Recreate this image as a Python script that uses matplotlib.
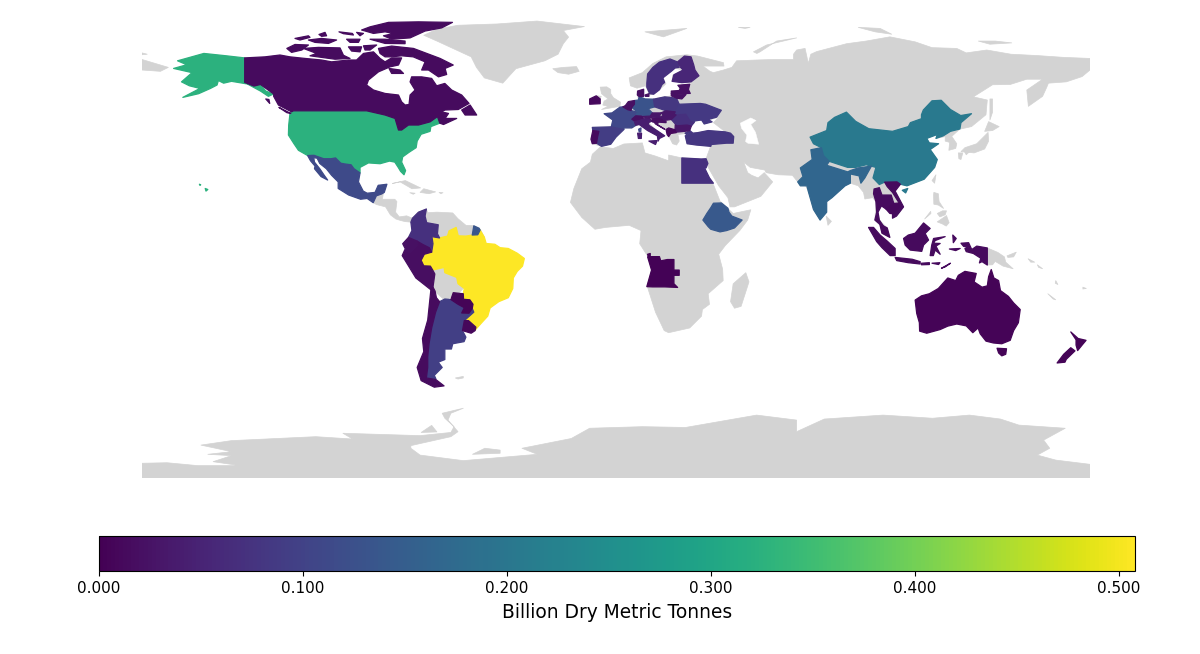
import matplotlib
matplotlib.use("Agg")
import matplotlib.pyplot as plt
from matplotlib.collections import PolyCollection
from matplotlib.colors import Normalize
from matplotlib.cm import ScalarMappable

GREY = "#d3d3d3"
CBAR_TICKS = [0.0, 0.1, 0.2, 0.3, 0.4, 0.5]
VMAX = 0.508
CBAR_LABEL = "Billion Dry Metric Tonnes"

COUNTRY_NAMES = ["Brazil", "USA", "China", "India", "Ethiopia", "French Guiana", "Mexico", "France", "Germany",
                 "Argentina", "Spain", "Colombia", "Egypt", "Sweden", "Finland", "Poland", "Ukraine", "Turkey",
                 "Romania", "Italy", "Canada", "Australia", "Angola", "Indonesia", "Thailand", "Vietnam", "Cambodia",
                 "Malaysia", "Peru", "Ecuador", "Chile", "Paraguay", "Uruguay", "Portugal", "Ireland", "Netherlands",
                 "Belgium", "Denmark", "Austria", "Switzerland", "Hungary", "Slovakia", "Slovenia", "Croatia",
                 "Bulgaria", "Estonia", "Latvia", "Lithuania", "Balkans", "New Zealand"]
COUNTRY_VALUES = [0.508, 0.325, 0.205, 0.165, 0.14, 0.135, 0.115, 0.11, 0.13,
                  0.095, 0.09, 0.07, 0.07, 0.07, 0.055, 0.08, 0.085, 0.08,
                  0.07, 0.04, 0.015, 0.004, 0.003, 0.012, 0.015, 0.015, 0.01,
                  0.012, 0.018, 0.02, 0.015, 0.005, 0.008, 0.015, 0.01, 0.02,
                  0.02, 0.02, 0.03, 0.02, 0.03, 0.03, 0.02, 0.02,
                  0.03, 0.02, 0.02, 0.02, 0.01, 0.005]

SHAPES = {
 "Brazil": [[(-60.7,5.2),(-59.9,2),(-57,1.9),(-54.6,2.3),(-52.5,2.4),(-51.6,4.2),(-50,1.5),(-49.3,-0.9),(-46,-1.2),(-44,-2.5),(-40.9,-2.8),(-37.5,-4.6),(-34.8,-6.6),(-35.5,-9.5),(-37.5,-11.5),(-39,-14),(-39.2,-18),(-40.9,-21.5),(-44.5,-23),(-47.8,-25.4),(-48.7,-28.5),(-51,-31),(-53.5,-33.8),(-53.2,-32.7),(-56,-30.2),(-57.6,-30.2),(-54,-27),(-54.6,-25.6),(-54.3,-24),(-55.5,-22.3),(-57.9,-22.1),(-58,-20),(-57.6,-18),(-60,-16.2),(-60.5,-13.8),(-65,-12),(-65.3,-10),(-69.6,-11),(-70.5,-9.5),(-73,-9.4),(-74,-7.3),(-72.8,-5),(-70,-4.2),(-69.5,-1),(-69.9,1.7),(-67,1.2),(-64,1.9),(-63.4,3.9)]],
 "USA": [[(-123.8,48.5),(-122.5,49.5),(-94.7,49.5),(-87.7,47.9),(-83.9,46.6),(-82.6,42.2),(-81.4,42.2),(-78.8,44.1),(-75,44.1),(-70.6,45.3),(-67.8,47.3),(-66.9,44.8),(-70.3,43.5),(-70.6,41.7),(-74,40.6),(-75.5,38),(-75.9,35.5),(-78.5,33.8),(-81,32),(-81.4,30),(-79.9,26.8),(-80.5,25.2),(-81.8,26.5),(-82.7,28),(-84,30),(-86,30.4),(-89.6,29.4),(-94,29.7),(-97.2,28),(-97.2,25.9),(-99.5,27.5),(-100.6,29),(-102.9,29.3),(-104.5,29.6),(-106.5,31.6),(-108.2,31.3),(-111,31.3),(-114.7,32.6),(-117.1,32.5),(-120.6,34.5),(-122.3,37),(-124.4,40.3),(-124.3,44)],
         [(-141,69.6),(-141,60.3),(-137.5,58.9),(-135,59.5),(-133,57),(-130,55.9),(-132,55),(-135,57),(-140,59.7),(-146,60.7),(-149,60),(-151,61),(-151.5,59.3),(-154,58),(-158.5,56),(-164.5,54.6),(-158,58),(-162,59),(-165,60.5),(-161,64),(-168,65.6),(-163,67),(-166.5,68.5),(-156.5,71.3),(-148,70.4)],
         [(-156,20),(-155,19.6),(-155.7,19)],[(-158.2,21.6),(-157.7,21.4),(-158,21.2)]],
 "China": [[(73.7,39.5),(80,42),(80.5,45),(83,47),(87.5,49),(91,45.5),(96,42.7),(105,41.7),(111,43.5),(111.8,45),(116,46.5),(116,48),(116.7,49.8),(120,53.3),(123.5,53.5),(127,50),(130.9,47.7),(135,48.4),(131,45),(130.6,42.6),(127,41.7),(124.3,40),(121.5,39),(122,40.5),(118,39),(119,37.3),(122.5,37),(119.3,34.8),(122,31),(121,28),(117,23.5),(110.5,21),(108,21.6),(106.7,22.5),(102,22.4),(100,21.5),(97.6,24),(98.7,28),(95,29),(91,28),(88,28),(81,30.3),(78.8,32.5),(78,35.5),(75,37)],
           [(108.7,19.3),(110.8,20),(110,18.3)]],
 "India": [[(74,34.7),(78,35.5),(78.8,32.5),(81,30.3),(80,28.8),(88,26.3),(89,26.8),(92,27.8),(97,28.5),(94.5,24),(93,22),(92.3,24.8),(89,25.5),(89,22),(87,21),(82,16.5),(80,15),(80,11),(77.5,8),(75,12),(73,19),(72.5,21),(70,21),(69,22.5),(71,24.5),(70,27.8),(74.5,31)]],
 "Ethiopia": [[(37,14.4),(40,14.5),(42.5,12.5),(42.9,11),(44,9.5),(47.9,8),(45,5),(42,4),(39.5,3.5),(36,4.5),(35,5.5),(33,8),(34.5,10.5),(36,12.7)]],
 "French Guiana": [[(-54,5.8),(-52,4.9),(-51.6,4.2),(-52.5,2.4),(-54.6,2.3)]],
 "Mexico": [[(-117.1,32.5),(-114.7,32.6),(-111,31.3),(-108.2,31.3),(-106.5,31.6),(-104.5,29.6),(-102.9,29.3),(-100.6,29),(-99.5,27.5),(-97.2,25.9),(-97.8,22.5),(-96,19),(-94.5,18.2),(-91.5,18.5),(-90.3,21.2),(-87,21.6),(-88,18.5),(-89,17.9),(-91,17.2),(-92.2,14.6),(-94.5,16.2),(-97,15.9),(-101.5,17.5),(-105.5,20),(-105.5,22.5),(-108,25),(-110,27.5),(-112.5,29.5),(-113.5,31.5),(-114.8,31.7),(-114.5,30),(-112.5,27.5),(-110.8,25),(-109.5,23.2),(-112,24.5),(-114.5,27.5),(-114.3,28.5),(-116,30.5)]],
 "France": [[(-1.8,43.4),(-1.2,46),(-4.5,48.4),(-1.5,48.7),(1.5,50.9),(2.6,51),(4.5,49.9),(8.2,49),(7.5,47.6),(6,46.3),(7.5,44),(6,43),(3,43),(3,42.5)],
            [(8.6,42.5),(9.5,43),(9.4,41.5),(8.8,41.5)]],
 "Germany": [[(7,53.4),(8.5,53.6),(8.8,54.9),(11,54),(14.2,53.9),(14.7,51),(12.2,50.3),(13.8,48.7),(13,47.5),(7.5,47.6),(8.2,49),(6,50.8),(7,52)]],
 "Argentina": [[(-67,-23),(-65,-22),(-62.7,-22.2),(-60,-24),(-57.6,-25.3),(-58.6,-27.3),(-55.8,-27.4),(-54.6,-25.6),(-54,-27),(-57.6,-30.2),(-58.3,-34),(-57,-36.5),(-57.7,-38.2),(-62,-39),(-62.5,-41),(-65,-41),(-65,-45),(-67.5,-46),(-66,-48),(-69,-51),(-68.4,-52.3),(-72,-52),(-71.5,-48),(-71.5,-44),(-71,-39),(-70,-33),(-68.5,-27)]],
 "Spain": [[(-9,43.2),(-1.8,43.4),(3,42.4),(0,39.5),(-2,36.8),(-5.5,36),(-7.4,37.2),(-7,39.5),(-6.5,41.7),(-8.8,42)]],
 "Colombia": [[(-77.3,8.7),(-75,11),(-72,12.2),(-72.5,9.5),(-71.9,7),(-67.5,6.2),(-67.8,2.8),(-67,1.2),(-69.9,1.7),(-69.5,-1),(-70,-4.2),(-70.9,-2.5),(-73.5,-1.2),(-75.5,0),(-78.8,1.4),(-77.5,4),(-77.9,7.2)]],
 "Egypt": [[(25,31.6),(32.3,31.2),(34.2,31.3),(34.9,29.5),(34.2,27.8),(33,28.5),(32.6,29.9),(35.5,24),(37,22),(25,22)]],
 "Sweden": [[(11.7,58.5),(12.8,56),(14.3,55.8),(16.5,57.5),(17.5,59.5),(18.5,60.3),(17.8,62),(21,64.5),(22.5,65.8),(24,66),(23.5,68),(20.5,69.2),(16.5,68),(14,66),(12,63.5),(11.7,60)]],
 "Finland": [[(21.3,60.7),(25,60.2),(28.5,60.5),(31.5,62.8),(30,65),(29.5,67),(28.5,70),(26,70.3),(23.5,68.2),(24.5,66),(25.5,65),(22,63.2)]],
 "Poland": [[(14.2,53.9),(18.5,54.8),(23,54.3),(24,52),(23.5,50.5),(22.5,49.1),(19,49.5),(14.7,51)]],
 "Ukraine": [[(24,52),(32,52.3),(34,52),(40,49.7),(38.2,47.1),(35,46.2),(36.5,45.3),(33.5,44.5),(32.5,46),(30,45.7),(29.6,45),(28.2,45.5),(26.5,48.2),(22.8,47.9),(22,48.3),(22.5,49.1),(23.5,50.5)]],
 "Turkey": [[(26.3,40),(29,41),(31,41.2),(35,42),(41.5,41.5),(43.5,41),(44.7,39.7),(44.5,37.2),(42,37.2),(36.2,36.7),(36,36),(30.5,36.5),(27,37)],
            [(26.2,41),(28,42),(29,41.2),(26.8,40.5)]],
 "Romania": [[(22.8,47.9),(26.5,48.2),(28.2,45.5),(29.6,45),(28.6,43.7),(27,44.1),(23,43.8),(22.5,44.5),(21,46.2)]],
 "Italy": [[(7.5,44),(6.8,45.8),(8.5,46.2),(12.5,46.7),(13.7,45.6),(12.3,45),(12.5,44),(16,41.7),(18.5,40),(16.5,39),(16,38),(15.7,40),(12,42),(8.8,44.3)],
           [(12.5,38),(15.6,38.2),(15,36.7)],[(8.2,41),(9.7,41),(9.6,39),(8.5,39)]],
 "Canada": [[(-141,69.6),(-133.3,70),(-127.6,70.7),(-123.8,70),(-118.1,69.4),(-111.8,68.8),(-108,68.1),(-101.6,68.8),(-98.5,68.8),(-95.9,71.3),(-92.1,71.9),(-89.6,69.4),(-87.7,68.1),(-85.2,69.6),(-81.4,69.6),(-82.6,66.9),(-85.8,66.2),(-90.2,64.3),(-94,61.2),(-94.7,59.3),(-92.1,57.4),(-87.7,56.1),(-82.6,55.5),(-81.4,52.9),(-80.1,51.7),(-78.6,51.9),(-78.2,55.5),(-76.3,57.4),(-78.2,60.5),(-77.6,62.4),(-73.8,62.4),(-70,61.8),(-68.1,59),(-65,59.9),(-62.4,57.4),(-58.6,55.5),(-55.8,52.3),(-59.9,50),(-64.9,49.8),(-69.3,47.9),(-66.2,49.1),(-63.6,48.5),(-64.9,46.6),(-60.5,46.6),(-65.5,44.3),(-66.9,44.8),(-67.8,47.3),(-70.6,45.3),(-75,44.1),(-78.8,44.1),(-81.4,42.2),(-82.6,42.2),(-83.9,46.6),(-87.7,47.9),(-94.7,49.5),(-122.5,49.5),(-123.2,49.1),(-128.2,51.7),(-130,55),(-130,55.9),(-135,59.5),(-137.5,58.9),(-141,60.3)],
            [(-90.2,73.2),(-85.2,74.1),(-76.9,73.2),(-66.8,69.4),(-61.8,66.9),(-64.9,65.6),(-64.3,63.3),(-67.4,62.4),(-71.2,65),(-73.8,65),(-72.5,68.1),(-77,70),(-81.4,70.4),(-85.2,70),(-87.7,70),(-89.6,71.3)],
            [(-86.2,65.6),(-82,65),(-80.7,63.7),(-85.2,63.7)],
            [(-125,73.2),(-121.9,74.7),(-116.8,74.5),(-119.3,72.6),(-123.2,71.7)],
            [(-118.7,73.2),(-113,73.6),(-104.8,73.4),(-103.5,70.6),(-101,69.4),(-106.7,69.1),(-116.2,70.4),(-113.7,71.3)],
            [(-121.9,77),(-116.8,78),(-116.2,77.4),(-120,76.4)],
            [(-116.8,76.4),(-111.8,77),(-106.1,76.4),(-109.2,75.1),(-114.3,75.5)],
            [(-102.3,76.7),(-97.2,76.7),(-97.8,75.5),(-101,75.5)],
            [(-101.6,73.8),(-96.6,73.8),(-97.2,71.9),(-100.4,72.2)],
            [(-95.9,74.2),(-90.9,74.5),(-93.4,72.6),(-95.3,72.6)],
            [(-112.8,78.5),(-110.5,79.3),(-109.9,78),(-111.8,77.8)],
            [(-105.2,79.5),(-100.1,78.9),(-99.7,78.3),(-103.5,78.8)],
            [(-98.5,79.3),(-95.9,78.9),(-97.2,78)],
            [(-93.4,76.7),(-87.7,76.7),(-80.1,76),(-80.1,75),(-87.7,75.1)],
            [(-96.6,80.2),(-93.4,81.4),(-86.4,83.1),(-75,83.3),(-62.1,83.1),(-66.2,81),(-72.5,79.8),(-78.2,77.2),(-85.2,76.7),(-88.3,78),(-84.5,78.9),(-87.7,79.5),(-92.1,78.9)],
            [(-58.6,49.8),(-55.4,51.7),(-52.9,47.9),(-57.3,47.9)],
            [(-128,50.8),(-123.5,48.5),(-125,48.8)],
            [(-133,54),(-131.8,53.8),(-131.5,52.3)]],
 "Australia": [[(113.6,-22.4),(114.2,-27.5),(115.2,-31),(115.3,-34.2),(118,-35),(123.1,-33.6),(126,-32.3),(129.4,-31.5),(133,-32.2),(135.5,-34.8),(137.5,-33),(138.3,-35.2),(140.5,-38),(143.3,-38.7),(146.5,-39),(149.7,-37.7),(151,-34),(152.8,-31),(153.5,-26),(151,-23.5),(149,-21),(146,-18.8),(145.3,-15),(143.5,-14),(142.5,-10.8),(141.5,-13.5),(141,-17),(139,-17.5),(136,-15.5),(136.8,-12.3),(132.5,-11.5),(130,-13),(129,-15),(126,-14),(122.4,-18),(119,-20),(116,-20.8)],
               [(144.7,-40.7),(148.3,-40.9),(148,-43),(146.5,-43.6),(145.3,-42.5)]],
 "Angola": [[(11.7,-17.3),(13.5,-11),(12,-6),(13,-5.9),(16.5,-5.9),(17,-7.5),(19.5,-7),(22,-7),(22,-11),(24,-11),(24,-13),(22,-13),(22,-16.2),(23.4,-17.6),(18.5,-17.4),(13.9,-17.4)],
            [(12,-5),(13,-4.7),(13,-5.8),(12.2,-5.8)]],
 "Indonesia": [[(95.9,5.2),(97.8,5.2),(100.3,2.3),(103,0),(106,-2.8),(106,-5.5),(104.1,-5.5),(101,-2.5),(99,-0.2)],
               [(106,-6.2),(109.8,-6.6),(112.5,-6.9),(115.5,-7.8),(115.5,-8.7),(111,-8.2),(106.6,-7.4)],
               [(109.2,1),(111,2.3),(113.6,3),(116.8,6.9),(119.3,4.8),(117.4,2.9),(118.7,0.4),(116.8,-1.5),(116.1,-3.9),(111.7,-3.4),(109.8,-1.5)],
               [(119.3,-5.5),(119.9,-1.5),(120.6,1),(125,1.7),(121.2,0.2),(120.6,-0.8),(123.1,-0.9),(121.5,-1.9),(123.1,-5),(121.2,-3.4),(120.5,-5.5)],
               [(116,-8.4),(119,-8.2),(119,-8.9),(116,-9)],[(120,-8.4),(123,-8.2),(122.5,-8.9)],
               [(123.6,-10.3),(127,-8.4),(125,-9.8)],[(127.9,2.3),(129.2,1),(128.1,-0.6)],[(126.6,-3),(130.7,-2.8),(129,-3.6)],
               [(131,-0.8),(133.9,-0.6),(135.1,-3.2),(137,-1.9),(141,-2.6),(141,-9.1),(139,-7.8),(138,-8.3),(138.5,-6.5),(135.7,-4.7),(133,-4),(132.5,-2.8),(134,-2.3),(132,-2)]],
 "Thailand": [[(100,20.3),(101,17.5),(104.5,17.5),(105.5,14.3),(102.5,12.2),(100.8,13.4),(99.5,11),(100,8),(101.5,5.8),(100.2,6.4),(98.3,8),(99,11),(98.7,15),(97.8,18),(98,19.8)]],
 "Vietnam": [[(102,22.4),(106.7,22.5),(108,21.6),(106,19),(109.2,13),(106.5,9.5),(105,8.7),(105,10.4),(107.5,13),(107.5,14.5),(105,18.5),(103,20.7)]],
 "Cambodia": [[(102.5,12.2),(105.5,14.3),(107.5,14.5),(107.5,13),(105,10.4),(104,10.5)]],
 "Malaysia": [[(100.2,6.4),(101.5,5.8),(103,5),(104,1.4),(101,3)]],
 "Peru": [[(-80.3,-3.5),(-78.3,-4.5),(-75.3,-1.5),(-75.5,0),(-73.5,-1.2),(-70.9,-2.5),(-70,-4.2),(-72.8,-5),(-74,-7.3),(-73,-9.4),(-70.5,-9.5),(-69.6,-11),(-68.8,-12.5),(-69.5,-17.5),(-70.3,-18.5),(-76,-14),(-81.2,-5.5)]],
 "Ecuador": [[(-78.8,1.4),(-75.5,0),(-75.3,-1.5),(-78.3,-4.5),(-80.3,-3.5),(-80,-3),(-81,-1)]],
 "Chile": [[(-69.5,-17.5),(-70.3,-18.5),(-71.5,-30),(-73.5,-37),(-73,-42),(-75.5,-48),(-74,-53),(-69,-55.5),(-65.3,-55),(-68.4,-52.6),(-72,-52),(-71.5,-48),(-71.5,-44),(-71,-39),(-70,-33),(-68.5,-27),(-67,-23),(-68.2,-21.5),(-68.7,-19)]],
 "Paraguay": [[(-62.7,-22.2),(-61.8,-19.6),(-58,-20),(-57.9,-22.1),(-55.5,-22.3),(-54.3,-24),(-54.6,-25.6),(-55.8,-27.4),(-58.6,-27.3),(-57.6,-25.3),(-60,-24)]],
 "Uruguay": [[(-57.6,-30.2),(-56,-30.2),(-53.2,-32.7),(-53.5,-34),(-55,-35),(-58.3,-34)]],
 "Portugal": [[(-8.8,42),(-6.5,41.7),(-7,39.5),(-7.4,37.2),(-9,37),(-9.5,38.7)]],
 "Ireland": [[(-10,52),(-6,52.2),(-6,54),(-7.5,55.2),(-10,54)]],
 "Netherlands": [[(3.5,51.4),(4.7,53),(7,53.4),(7,52),(6,50.8),(5.8,51),(3.5,51.3)]],
 "Belgium": [[(2.6,51),(3.5,51.4),(6,50.8),(5.7,49.6),(4.5,49.9)]],
 "Denmark": [[(8.1,55.5),(8.2,57),(10.5,57.7),(10.5,55),(8.8,54.9)],[(11,55.5),(12.5,56),(12.5,55),(11.2,55)]],
 "Austria": [[(9.6,47.3),(13,47.5),(13.8,48.7),(17,48.7),(16.5,47),(12.5,46.7)]],
 "Switzerland": [[(6,46.3),(7.5,47.6),(9.6,47.5),(10.4,46.7),(8.5,46.2),(6.8,45.8)]],
 "Hungary": [[(16.5,47),(18,47.8),(22,48.3),(22.8,47.9),(21,46.2),(18.8,45.9),(16.5,46.5)]],
 "Slovakia": [[(17,48.7),(19,49.5),(22.5,49.1),(22,48.3),(18,47.8)]],
 "Slovenia": [[(13.7,45.6),(13.7,46.5),(16.5,46.6),(15.5,45.5)]],
 "Croatia": [[(13.7,45.4),(15.5,45.5),(16.5,46.5),(19,45.5),(19,45),(16,45.2),(15.8,44.2),(18.5,42.5),(15,44.5),(14.5,45.2)]],
 "Bulgaria": [[(22.5,44.2),(23,43.8),(27,44.1),(28.6,43.7),(28,42),(26.2,41.7),(22.9,41.4),(22.4,42.3)]],
 "Estonia": [[(23.5,59.2),(28,59.6),(27.5,57.6),(24.5,58)]],
 "Latvia": [[(21,57),(24,57.2),(24.4,58),(27.5,57.6),(28.2,56.1),(21,56)]],
 "Lithuania": [[(21,56),(26.6,55.7),(25,54),(23,54.3),(21,55.2)]],
 "Balkans": [[(19,42.4),(20,43),(22.4,42.3),(22.9,41.2),(20.8,40.9),(20,39.7),(19.4,40.5)]],
 "New Zealand": [[(172.7,-34.5),(175.5,-37),(178.5,-37.7),(177,-39.5),(175.3,-41.6),(174.7,-39.5),(174.7,-37.5)],
                 [(172.7,-40.5),(174.3,-41.7),(171,-44.9),(170.5,-46),(167.5,-46.3),(170,-43)]],
}

GREY_LAND = [
 [(-9,37),(-9.5,38.7),(-8.8,42),(-9,43.2),(-1.8,43.4),(-1.2,46),(-4.5,48.4),(-1.5,48.7),(1.5,50.5),(3.5,51.4),(4.7,53),(8.5,53.6),(8.2,55.5),(8.2,57),(10.5,57.7),(10.3,56),(9.8,55),(11,54),(14,54),(18.5,54.8),(21,55.2),(21,57),(24,57.2),(24,58.5),(23.5,59.2),(28,59.6),(30,60),(25,60.2),(21.3,60.7),(21.5,63),(25.3,65),(22,65.8),(17.5,62.5),(17.2,60.7),(19,59.8),(16.5,57.5),(14.5,56),(12.8,55.5),(11.2,59),(8,58.1),(5.5,59),(5,62),(10,64),(14,67.5),(19,70),(26.9,70.8),(31,70.3),(40.8,67.8),(41,66.5),(35.7,66.5),(33,66.5),(35.7,64.5),(37,64),(40.8,65),(44,66),(45.8,68.5),(53.4,68.8),(60,69),(67.4,69),(67.4,71),(68.6,72.6),(71.8,73.2),(72.5,70),(73,67.5),(74,71),(76.2,72),(80,73),(87.6,75),(95,76),(104,77.6),(113.6,75.7),(120,73.5),(129.4,73.2),(133,71.5),(140.8,72.6),(150,71),(159.8,70.5),(170,69.8),(180,69.4),(180,65),(177,62.5),(171,60.5),(164.2,60),(163.6,58.5),(162,55),(156.6,51.2),(156,57.4),(162,61.5),(156,61.5),(149.7,59.5),(143,59.4),(140.8,58),(135.7,54.8),(141,53.6),(140.5,48),(135,43.5),(130.5,42.5),(127.5,39.8),(129.4,37),(129,35.2),(126.4,34.5),(126.7,37.5),(125,38),(125,39.7),(121.5,39),(122,40.5),(118,39),(119,37.3),(122.5,37),(119.3,34.8),(122,31),(121,28),(117,23.5),(110.5,21),(108,21.6),(106,19),(109.2,13),(106.5,9.5),(105,8.7),(105,10.4),(102.5,12.2),(100.8,13.4),(99.5,11),(100,8),(103,5),(104,1.4),(101,3),(100.2,6),(98.3,8),(98.7,15),(97.5,16.5),(94.5,16),(94,18.5),(92,21),(89,22),(87,21),(82,16.5),(80,15),(80,11),(77.5,8),(75,12),(73,19),(72,21),(70,21),(69,22.5),(67,25),(61.6,25.2),(57,26),(56.5,27),(51,28),(48.5,30),(50,26),(51.5,25),(54,24),(56.3,26),(59.5,22.5),(55,17),(45,13),(43.3,13),(42.5,16.5),(39,21),(35,28),(34.9,29.5),(34.2,31.3),(35.9,36),(30.5,36.5),(27,37),(26.3,39.7),(29,41),(31,41.2),(35,42),(41.5,41.5),(37,45),(39,47),(35,46),(36.5,45.3),(33.5,44.5),(32.5,46),(30,45.5),(28,43.5),(28,41.7),(26,40.8),(23.5,40.5),(24,38),(23,36.5),(21.5,37),(19.5,41),(19,42.3),(13.8,45.5),(12.3,45),(16,41.5),(18.5,40),(16.5,39),(16,38),(15.7,40),(12,42),(8.8,44.3),(6,43),(3,43),(0,39.5),(-2,36.8),(-5.5,36)],
 [(-5.9,35.8),(-1,35.2),(3,36.9),(10,37.3),(11,33.5),(15,32.3),(20,30.5),(20,32.7),(25,31.6),(32.3,31.2),(32.6,29.9),(35.5,24),(37.2,21),(39.5,15.2),(43.3,11.6),(44.5,10.5),(51.2,11.9),(50,8),(47,4),(41.5,-1.7),(39,-5),(40.5,-10.7),(40.7,-15),(35,-20),(35.5,-24),(32.8,-26),(32.5,-28.5),(28,-33),(20,-34.8),(18.3,-34),(15,-27),(11.8,-17),(13.5,-11),(12.2,-6),(9,-1),(9.5,4),(5,6),(-4,5.2),(-8,4.5),(-13,9),(-17.3,14.7),(-16,20),(-13,27.5),(-9.7,30),(-9,33)],
 [(49.3,-12),(50.5,-15.5),(47.5,-24.8),(45,-25.5),(43.5,-23),(44.5,-16.2)],
 [(-92.2,14.6),(-90.5,17.8),(-89,17.9),(-88.3,18.4),(-88.7,15.9),(-84,15.9),(-83.2,15),(-83.7,11),(-82.3,9.2),(-79.5,9.6),(-77.3,8.7),(-77.9,7.2),(-80,7.4),(-81.7,7.8),(-83.6,8.4),(-85.7,10),(-87.5,13),(-91,13.9)],
 [(-77.3,8.7),(-75,11),(-72,12.2),(-71.5,10.8),(-68,11),(-62,10.7),(-60,8.5),(-57,6),(-54,5.9),(-51.5,4.4),(-50,1.5),(-52,-5),(-55,-15),(-60,-20),(-65,-22.5),(-70,-18),(-76,-14),(-72,-2),(-77.9,7.2)],
 [(-73,78.2),(-68,76),(-55,70),(-53,66),(-50,62),(-43,60),(-38,65.5),(-27,68.5),(-22,71),(-20,75),(-18,77.5),(-20,80),(-12,81.5),(-30,83.6),(-45,82.5),(-60,82),(-68,80.5)],
 [(-84.9,21.9),(-80,23),(-74.2,20.2),(-77.5,19.9),(-82,22.5)],
 [(-74.4,18.5),(-73,19.9),(-68.5,18.7),(-71,18)],
 [(-78.3,18.4),(-76.3,18.2),(-77,17.8)],[(-67.2,18.5),(-65.7,18.4),(-66.5,18)],
 [(-5.5,50),(1.5,51.2),(1.7,52.8),(-1,54.5),(-2,56),(-2,57.6),(-3.5,58.6),(-6,58.5),(-5.5,56),(-3,54),(-4.5,53.2),(-5,51.7),(-3,51.2)],
 [(-8,54.5),(-6,54),(-5.6,55),(-7,55.2)],
 [(-24,65.5),(-22,64),(-18,63.4),(-14,64.5),(-15,66.3),(-20,66)],
 [(131,34),(136,33.5),(140,35),(141.5,38),(141.3,41.3),(140,40),(137,37),(132.5,35.5)],
 [(130,33.5),(131.7,33.5),(131,31),(130.2,31.3)],[(132.3,34),(134.5,34.2),(133,32.8)],
 [(140,41.7),(141.5,45.4),(145.5,43.5),(143,42)],
 [(142,46),(143,49),(143,54),(142,54),(142,50)],
 [(120,23),(121.5,25.2),(121,22)],
 [(120.6,17.5),(120.7,18.5),(122.4,18),(122.7,15),(124.4,12.4),(122.4,13.7),(120.7,14)],
 [(122,7.3),(125.5,9.7),(126.5,7),(125.4,5.7),(124,6.5)],
 [(122,10.5),(124,11.5),(125.5,11.5),(125,10),(123,9.2)],
 [(117.2,8.4),(119.5,11.3),(119.6,10.5)],
 [(79.8,9.5),(81.8,7.5),(80.5,6)],
 [(141,-2.6),(145,-4.3),(147.5,-6),(148,-8),(150.8,-10.5),(147,-9.5),(144,-7.7),(143,-9),(141,-9.1)],
 [(148.5,-5.6),(152,-4.2),(151,-6),(148.8,-6.2)],
 [(156.5,-6.7),(159,-8),(157.5,-8)],[(160,-9),(162,-10.5),(160.5,-10)],
 [(164,-20),(167,-22.3),(166,-22)],[(167,-15),(167.8,-16.5),(166.8,-16)],[(177.3,-17.5),(178.6,-18),(177.3,-18.2)],
 [(-61,-52),(-58,-51.4),(-58,-52),(-60,-52.4)],
 [(52.2,71.9),(57.2,74.5),(68.6,77.2),(61,76),(54.7,71.9),(53.5,71.3)],
 [(92,81.2),(100.3,80.8),(104.7,78.6),(98.4,79.5)],[(11,79.5),(26.9,80.8),(18,77.6)],
 [(46.5,81.2),(50.9,81.2),(49,80.8)],[(137.6,76),(144,76),(150.3,75.3),(142,74.8)],
 [(-180,69),(-175,67.5),(-170,66),(-173,64.5),(-180,65)],[(-180,71.5),(-178,71),(-180,70.8)],
 [(-180,-84.4),(-170.5,-84.2),(-158.8,-85.3),(-142.8,-85.3),(-153,-83.8),(-146,-81.5),(-155,-81),(-146,-80),(-157.6,-77.5),(-146,-75.8),(-114,-74.3),(-100,-75.2),(-103.7,-73),(-90.8,-73.4),(-74.4,-73.9),(-62.7,-72.7),(-61.5,-70.5),(-65,-67.3),(-66,-65.4),(-58,-63.5),(-62.7,-65.4),(-63.8,-68),(-60,-72.4),(-62.7,-74.3),(-77.9,-77.7),(-77.9,-78.7),(-74.4,-81.3),(-58,-83.4),(-29.9,-81),(-35.7,-78.7),(-17,-75),(-10,-71.1),(10,-70.5),(26.4,-70.8),(53.4,-66.1),(68.6,-68),(68.6,-72.4),(79.1,-67.6),(101.4,-66.1),(120.2,-67.3),(134.2,-66.1),(146,-67.6),(153,-69.9),(170.6,-71.1),(162.4,-75.6),(164.7,-78.7),(160,-81.3),(167,-83.2),(180,-84.8),(180,-90),(-180,-90)],
 [(-54.5,-81),(-49.8,-78.7),(-44,-79.4),(-44,-80.6)],[(-74,-72.7),(-70,-70),(-68,-72.5)],
]
WATER = [[(47,45),(51,47),(53,46),(51,44.5),(52.8,41.5),(54,37),(50,37.3),(49,38),(49.5,40.5),(47.5,43)]]

cmap = plt.get_cmap("viridis")
norm = Normalize(0, VMAX)

fig = plt.figure(figsize=(12, 6.54), dpi=100)
ax = fig.add_axes([142/1200, 1-478/654, 948/1200, 458/654])
ax.set_xlim(-180, 180)
ax.set_ylim(-90, 84)
ax.axis("off")

ax.add_collection(PolyCollection(GREY_LAND, facecolors=GREY, edgecolors=GREY, linewidths=0.5, joinstyle="round", zorder=1))
ax.add_collection(PolyCollection(WATER, facecolors="white", edgecolors="white", linewidths=0.3, zorder=2))

polys, vals = [], []
for name, value in zip(COUNTRY_NAMES, COUNTRY_VALUES):
    for p in SHAPES[name]:
        polys.append(p)
        vals.append(value)
pc = PolyCollection(polys, array=vals, cmap=cmap, norm=norm, edgecolors="face", linewidths=0.9, joinstyle="round", zorder=3)
ax.add_collection(pc)

cax = fig.add_axes([99/1200, 1-571/654, 1036/1200, 35/654])
cb = fig.colorbar(ScalarMappable(norm=norm, cmap=cmap), cax=cax, orientation="horizontal", format="%.3f")
cb.set_ticks(CBAR_TICKS)
cax.tick_params(labelsize=11)
cb.set_label(CBAR_LABEL, fontsize=13.4, labelpad=5)

fig.savefig("out.png", dpi=100)
